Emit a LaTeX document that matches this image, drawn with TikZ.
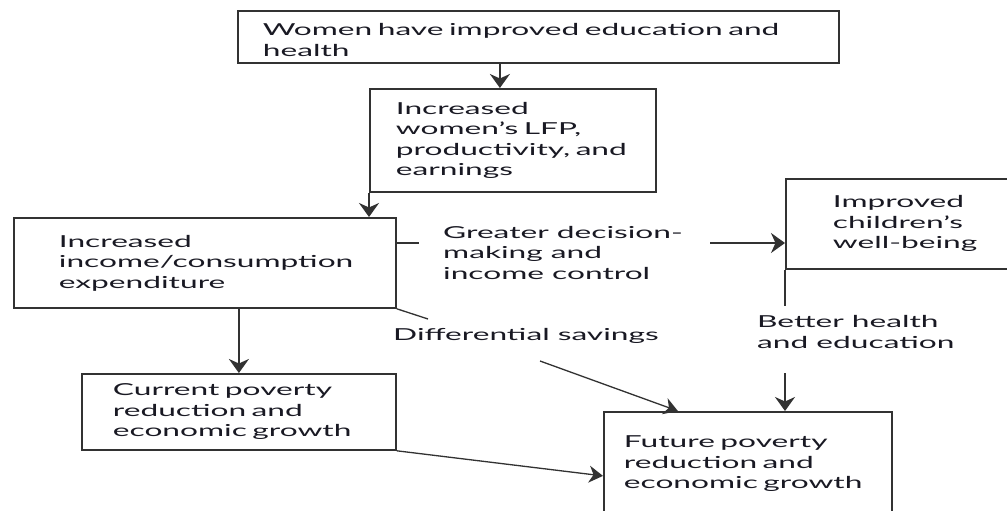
\documentclass[tikz,border=0pt]{standalone}
\usepackage{fontspec}
\setmainfont{Lato}[FakeStretch=1.92]
\usetikzlibrary{arrows.meta}
\definecolor{linegray}{RGB}{50,50,50}
\definecolor{textgray}{RGB}{25,25,35}
\newcommand{\boxfont}{\fontsize{16.5}{20.5}\selectfont}
\tikzset{my box/.style={draw=linegray,line width=1.8pt,anchor=north west,inner sep=0pt,align=left,font=\boxfont,text=textgray},
  my label/.style={anchor=base west,inner sep=0pt,align=left,font=\boxfont,text=textgray},
  my line/.style={draw=linegray,line width=2pt},
  my arrow/.style={my line,-{Stealth[length=14pt,width=20pt,inset=4.5pt]}},
  thin line/.style={draw=linegray,line width=1.3pt},
  thin arrow/.style={thin line,-{Stealth[length=14pt,width=17pt,inset=4.5pt]}}}

\begin{document}
\begin{tikzpicture}[x=1pt,y=-1pt]
\path[use as bounding box,clip] (0,0) rectangle (1007,511);
\fill[white] (0,0) rectangle (1007,511);
% boxes
\node[my box,minimum width=601pt,minimum height=52pt,text width=551pt] (women) at (237,10) {\rule{0pt}{18pt}Women have improved education and\\health};
\node[my box,minimum width=286pt,minimum height=103pt,text width=234pt] (lfp) at (369,88) {Increased\\women's LFP,\\productivity, and\\earnings};
\node[my box,minimum width=382pt,minimum height=90pt,text width=292pt] (income) at (13,217) {Increased\\income/consumption\\expenditure};
\node[my box,minimum width=250pt,minimum height=90pt,text width=156pt] (children) at (785,178) {Improved\\children's\\well-being};
\node[my box,minimum width=314pt,minimum height=76pt,text width=252pt] (current) at (81,373) {Current poverty\\reduction and\\economic growth};
\node[my box,minimum width=288pt,minimum height=104pt,text width=248pt] (future) at (603,411) {Future poverty\\reduction and\\economic growth};
% labels (base = last line)
\node[my label] (decision) at (443,279) {Greater decision-\\making and\\income control};
\node[my label] (savings) at (393,340) {Differential savings};
\node[my label] (better) at (757,348) {Better health\\and education};
\coordinate (gd-in) at (419,243);
\coordinate (gd-out) at (710,243);
\coordinate (ds-in) at (428,319);
\coordinate (ds-out) at (540,361);
\coordinate (bh-in) at (785,306);
\coordinate (bh-out) at (785,373);
% connectors
\draw[my arrow] ([xshift=-38.5pt]women.south) -- ([xshift=-38.5pt]women.south |- lfp.north);
\draw[my arrow] (lfp.south west) -- (lfp.south west |- income.north);
\draw[my arrow] ([xshift=34pt]income.south) -- ([xshift=34pt]income.south |- current.north);
\draw[my line] (income.east |- gd-in) -- (gd-in);
\draw[my arrow] (gd-out) -- (children.west |- gd-out);
\draw[my line] (children.south west) -- (bh-in);
\draw[my arrow] (bh-out) -- (future.north -| bh-out);
\draw[thin line] (income.south east) -- (ds-in);
\draw[thin arrow] (ds-out) -- ([xshift=-70pt]future.north);
\draw[thin arrow] (current.south east) -- ([yshift=-12pt]future.west);
\end{tikzpicture}
\end{document}
